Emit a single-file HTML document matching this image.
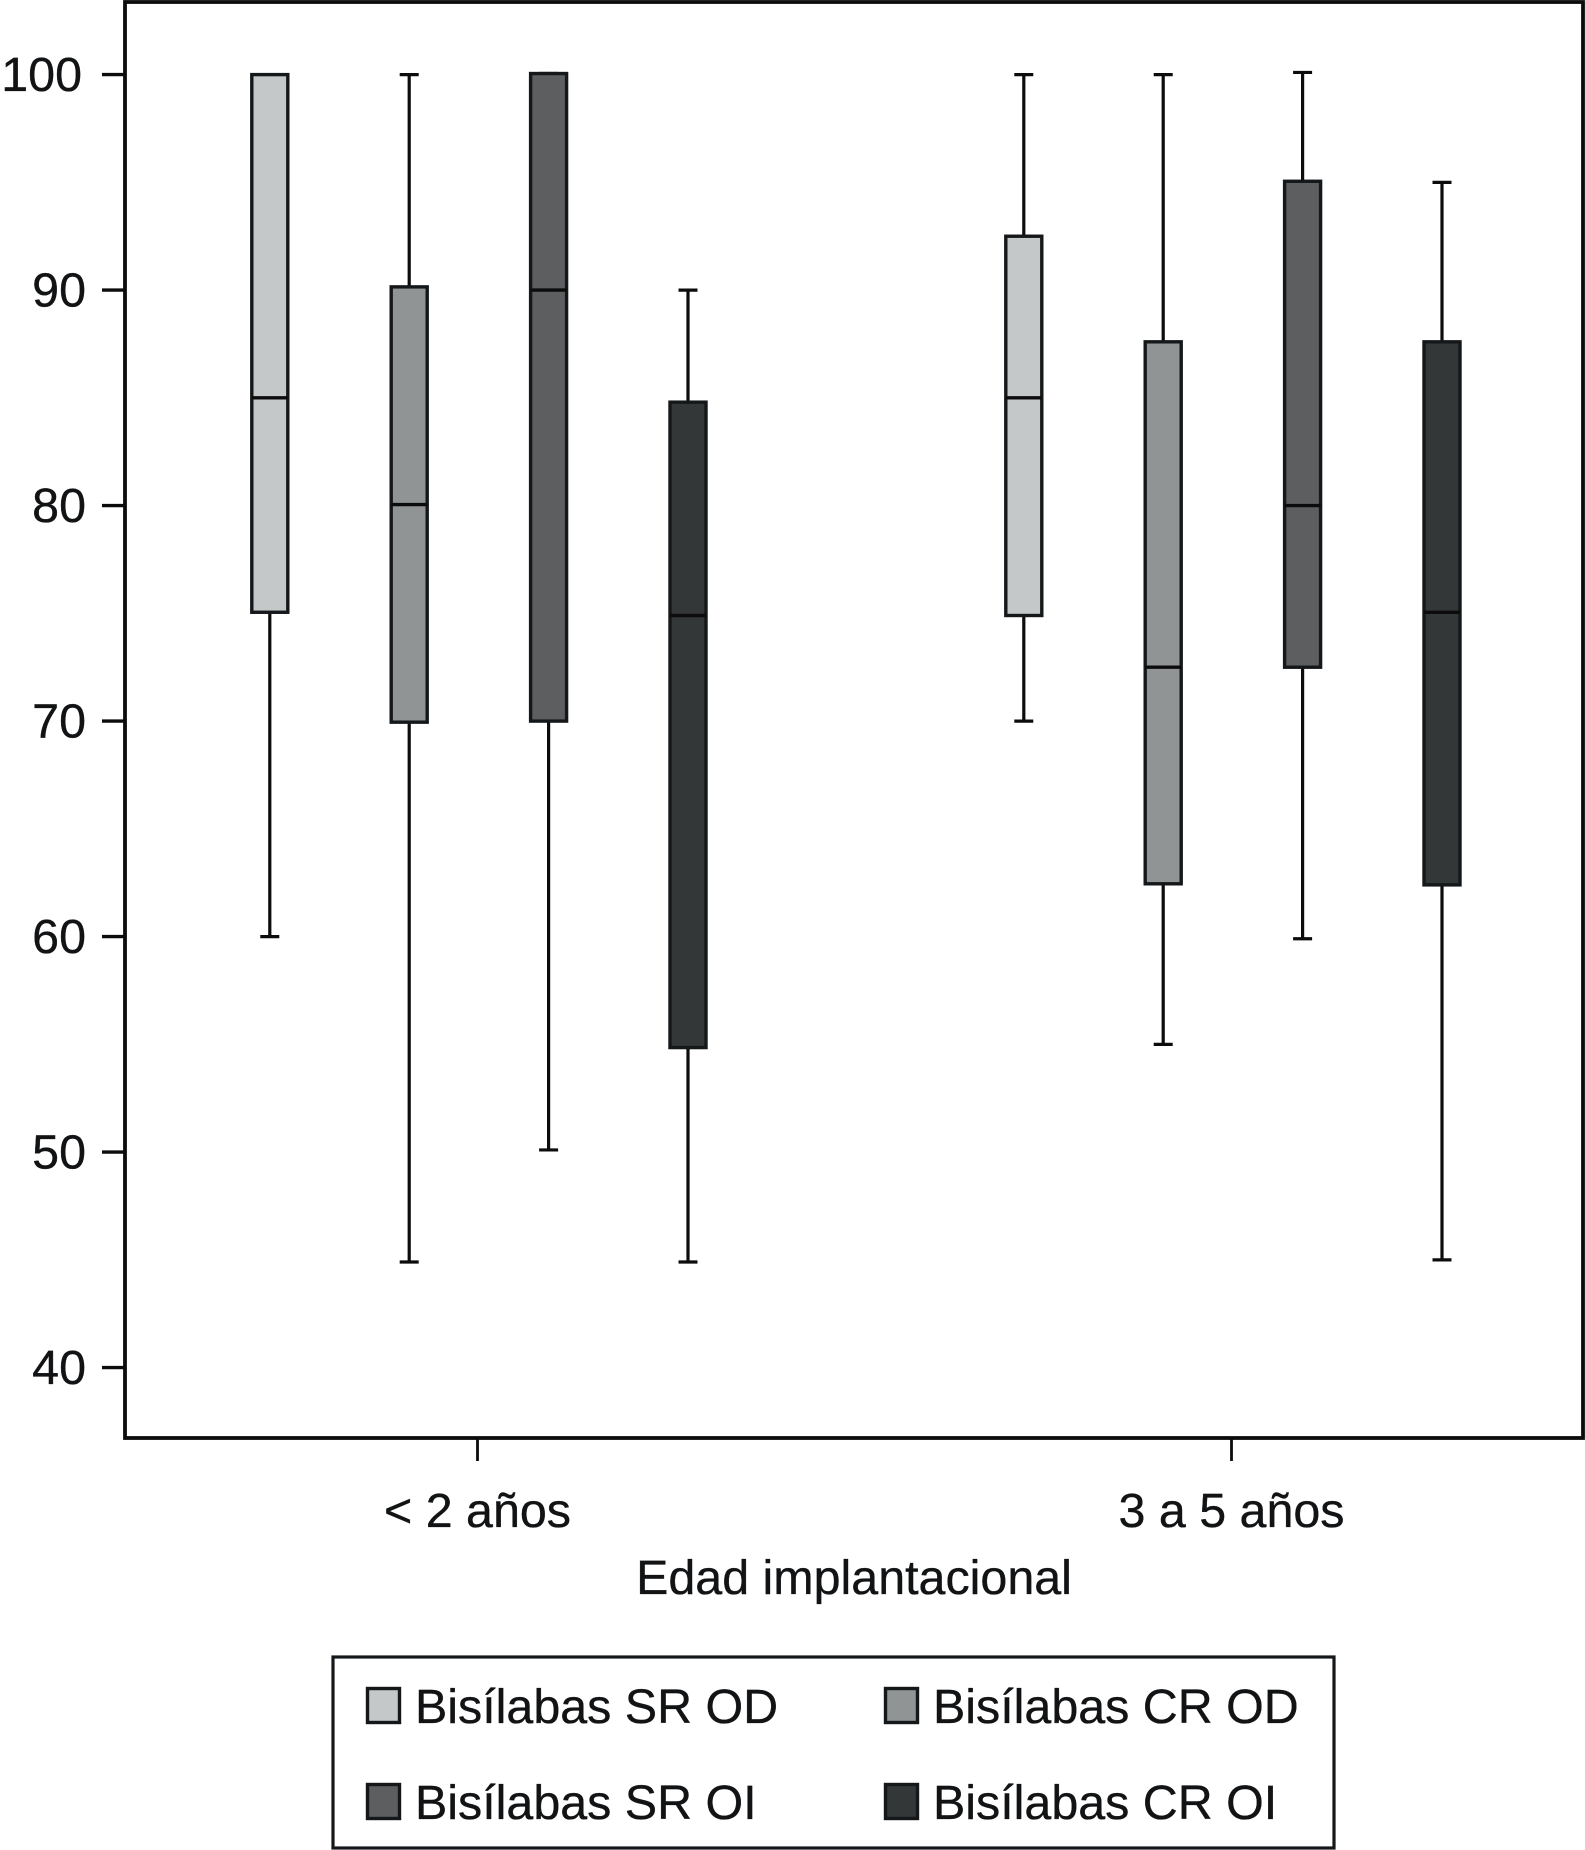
<!DOCTYPE html>
<html lang="es">
<head>
<meta charset="utf-8">
<title>Bisílabas por edad implantacional</title>
<style>
html,body{margin:0;padding:0;background:#fff;}
body{width:1585px;height:1850px;overflow:hidden;}
svg{display:block;font-family:"Liberation Sans",Arial,sans-serif;}
text{fill:#111315;stroke:#111315;stroke-width:0.35px;}
</style>
</head>
<body>
<svg id="chart" width="1585" height="1850" viewBox="0 0 1585 1850" xmlns="http://www.w3.org/2000/svg">
  <rect x="125" y="2" width="1458" height="1436" fill="#fff" stroke="#0c0c0c" stroke-width="3.8"/>
  <g id="y-axis"></g>
  <g id="x-axis"></g>
  <g id="boxes"></g>
  <text x="854" y="1594" font-size="48.4" text-anchor="middle">Edad implantacional</text>
  <g id="legend">
    <rect x="333" y="1657" width="1001" height="191" fill="#fff" stroke="#15181a" stroke-width="3.2"/>
  </g>
</svg>
<script>
const yTicks = [100, 90, 80, 70, 60, 50, 40];
const groups = ["< 2 años", "3 a 5 años"];
const seriesNames = ["Bisílabas SR OD", "Bisílabas CR OD", "Bisílabas SR OI", "Bisílabas CR OI"];
const seriesColors = ["#c4c8c8", "#909494", "#5c5e60", "#343738"];
const whiskerLow = [[60, 44.9, 50.1, 44.9], [70, 55, 59.9, 45]];
const quartile1 = [[75.05, 69.95, 70, 54.85], [74.9, 62.45, 72.5, 62.4]];
const medians = [[85, 80.05, 90, 74.9], [85, 72.5, 80, 75.05]];
const quartile3 = [[100, 90.15, 100.05, 84.8], [92.5, 87.6, 95.05, 87.6]];
const whiskerHigh = [[100, 100, 100.05, 90], [100, 100, 100.1, 95]];

const NS = "http://www.w3.org/2000/svg";
function yScale(v) { return 74.6 + (100 - v) * 21.55; }
function groupCenter(g) { return 478.5 + g * 754; }
function xScale(g, s) { return groupCenter(g) + 0.4 + (s - 1.5) * 139.4; }
function make(parent, tag, props, content) {
  const el = document.createElementNS(NS, tag);
  for (const k in props) el.setAttribute(k, props[k]);
  if (content !== undefined) el.textContent = content;
  parent.appendChild(el);
  return el;
}

const yAxis = document.getElementById("y-axis");
yTicks.forEach(function (t) {
  const tick = make(yAxis, "line", {x1: 102, x2: 125, y1: yScale(t), y2: yScale(t), stroke: "#0c0c0c", "stroke-width": 3.4});
  
  
  const label = make(yAxis, "text", {x: t === 100 ? 82 : 86, y: yScale(t) + 16.5, "font-size": 48.4, "text-anchor": "end"}, String(t));
  
  
});

const xAxis = document.getElementById("x-axis");
groups.forEach(function (name, g) {
  const tick = make(xAxis, "line", {x1: groupCenter(g) - 1, x2: groupCenter(g) - 1, y1: 1438, y2: 1461, stroke: "#0c0c0c", "stroke-width": 2.8});
  
  
  const label = make(xAxis, "text", {x: groupCenter(g) - 1, y: 1527, "font-size": 48.4, "text-anchor": "middle"}, name);
  
  
});

const boxes = document.getElementById("boxes");
const boxWidth = 36;
const capWidth = 19;
groups.forEach(function (name, g) {
  seriesNames.forEach(function (sName, s) {
    const cx = xScale(g, s);
    const box = make(boxes, "g", {});
    
    
    const whisker = make(box, "line", {x1: cx, x2: cx, y1: yScale(whiskerHigh[g][s]), y2: yScale(whiskerLow[g][s]), stroke: "#0c0c0c", "stroke-width": 3.2});
    
    
    const capTop = make(box, "line", {x1: cx - capWidth / 2, x2: cx + capWidth / 2, y1: yScale(whiskerHigh[g][s]), y2: yScale(whiskerHigh[g][s]), stroke: "#0c0c0c", "stroke-width": 3.2});
    
    
    const capLow = make(box, "line", {x1: cx - capWidth / 2, x2: cx + capWidth / 2, y1: yScale(whiskerLow[g][s]), y2: yScale(whiskerLow[g][s]), stroke: "#0c0c0c", "stroke-width": 3.2});
    
    
    const top = yScale(quartile3[g][s]);
    const bottom = yScale(quartile1[g][s]);
    const rect = make(box, "rect", {x: cx - boxWidth / 2, y: top, width: boxWidth, height: bottom - top, fill: seriesColors[s], stroke: "#15181a", "stroke-width": 3.4});
    
    
    const median = make(box, "line", {x1: cx - boxWidth / 2, x2: cx + boxWidth / 2, y1: yScale(medians[g][s]), y2: yScale(medians[g][s]), stroke: "#0c0c0c", "stroke-width": 3.4});
    
    
  });
});

const legend = document.getElementById("legend");
seriesNames.forEach(function (sName, s) {
  const col = s % 2;
  const row = Math.floor(s / 2);
  const swatch = make(legend, "rect", {x: 367.5 + col * 518, y: 1688.5 + row * 96, width: 32, height: 34, fill: seriesColors[s], stroke: "#15181a", "stroke-width": 3.4});
  
  
  const label = make(legend, "text", {x: 415 + col * 518, y: 1723 + row * 96, "font-size": 48.4}, sName);
  
  
});
</script>
</body>
</html>
